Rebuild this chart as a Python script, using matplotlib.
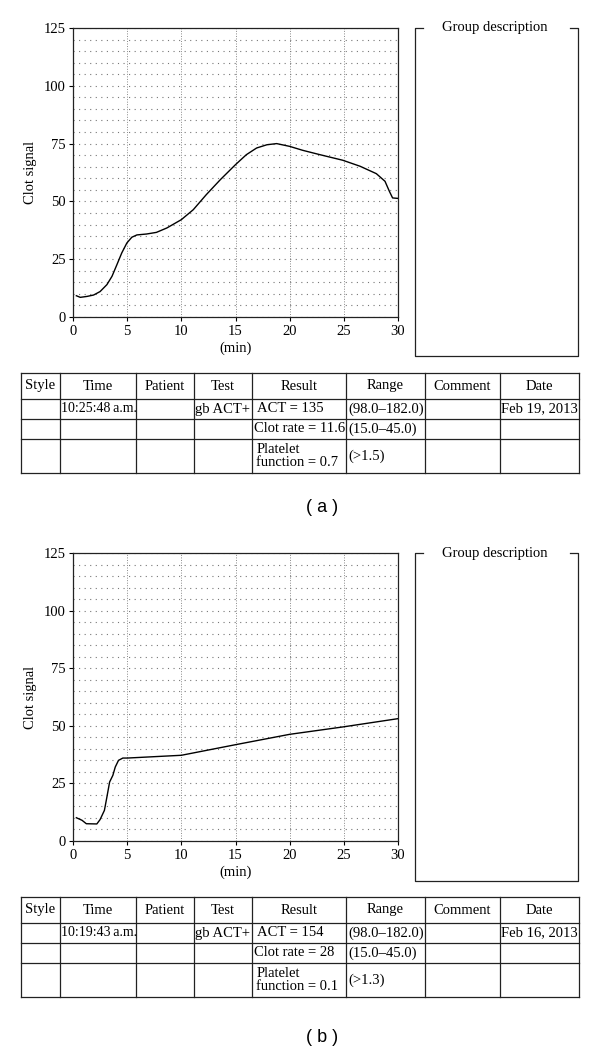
import numpy as np
import matplotlib.pyplot as plt

plt.rcParams['font.family'] = ['Liberation Serif', 'DejaVu Serif']
plt.rcParams['font.size'] = 10.5

# ---------------------------------------------------------
# Data
# ---------------------------------------------------------
time_a = [0.31, 0.67, 1.29, 1.9, 2.5, 3.13, 3.6, 4.05, 4.5, 4.97, 5.43, 5.9,
          6.8, 7.7, 8.66, 10.0, 11.1, 12.3, 13.6, 15.0, 16.0, 16.95, 17.9,
          18.8, 20.0, 21.2, 22.8, 24.9, 26.5, 28.0, 28.8, 29.2, 29.5, 30.0]
signal_a = [9.2, 8.5, 8.9, 9.5, 11.0, 14.0, 17.6, 22.6, 27.7, 32.0, 34.5, 35.5,
            35.9, 36.6, 38.5, 42.1, 46.4, 52.9, 59.4, 65.9, 70.2, 73.1, 74.5,
            75.0, 73.8, 72.1, 70.2, 67.8, 65.2, 62.0, 58.7, 54.4, 51.5, 51.3]

time_b = [0.31, 0.83, 1.23, 2.2, 2.5, 2.9, 3.13, 3.38, 3.68, 3.9, 4.2, 4.6,
          5.0, 10.0, 15.0, 20.0, 24.9, 30.0]
signal_b = [10.1, 9.0, 7.5, 7.4, 9.3, 13.3, 19.1, 25.6, 28.5, 32.1, 35.0, 36.0,
            36.0, 37.2, 41.8, 46.3, 49.5, 53.1]

x_ticks = [0, 5, 10, 15, 20, 25, 30]
y_ticks = [0, 25, 50, 75, 100, 125]

columns = ["Style", "Time", "Patient", "Test", "Result", "Range", "Comment", "Date"]
test_name = "gb ACT+"

time_str_a = "10:25:48\u2009a.m."
results_a = ["ACT = 135", "Clot rate = 11.6", "Platelet\nfunction = 0.7"]
ranges_a = ["(98.0\u2013182.0)", "(15.0\u201345.0)", "(>1.5)"]
date_a = "Feb 19, 2013"

time_str_b = "10:19:43\u2009a.m."
results_b = ["ACT = 154", "Clot rate = 28", "Platelet\nfunction = 0.1"]
ranges_b = ["(98.0\u2013182.0)", "(15.0\u201345.0)", "(>1.3)"]
date_b = "Feb 16, 2013"

W, H = 600, 1048
fig = plt.figure(figsize=(W / 100, H / 100), dpi=100)


def px_rect(x0, y0, x1, y1):
    return [x0 / W, 1 - y1 / H, (x1 - x0) / W, (y1 - y0) / H]


# ---------------------------------------------------------
# Curve panels
# ---------------------------------------------------------
def draw_curve(rect, t, s):
    ax = fig.add_axes(rect)
    ax.plot(t, s, color="black", lw=1.0, zorder=3)
    ax.set_xlim(0, 30)
    ax.set_ylim(0, 125)
    ax.set_xticks(x_ticks)
    ax.set_yticks(y_ticks)
    ax.set_yticks(np.arange(5, 125, 5), minor=True)
    ax.yaxis.grid(True, which="both", ls=(0, (1, 4)), lw=0.8, color="#777777")
    ax.xaxis.grid(True, which="major", ls=(0, (1, 1.6)), lw=0.7, color="#888888")
    ax.tick_params(which="major", direction="out", length=3, width=0.8, pad=2)
    ax.tick_params(which="minor", length=0)
    ax.tick_params(axis="x", pad=3)
    for sp in ax.spines.values():
        sp.set_linewidth(0.9)
        sp.set_color("#222222")
    ax.set_ylabel("Clot signal", labelpad=5)
    ax.set_xlabel("(min)", labelpad=2)
    return ax


draw_curve(px_rect(73, 28, 398, 317), time_a, signal_a)
draw_curve(px_rect(73, 553, 398, 841), time_b, signal_b)

# overlay in pixel coordinates for boxes and tables
ov = fig.add_axes([0, 0, 1, 1])
ov.set_xlim(0, W)
ov.set_ylim(H, 0)
ov.axis("off")


def draw_group_box(x0, y0, x1, y1):
    kw = dict(color="#222222", lw=0.9)
    ov.plot([x0 + 8, x0, x0, x1, x1, x1 - 8], [y0, y0, y1, y1, y0, y0], **kw)
    ov.text((x0 + x1) / 2 - 2, y0, "Group description", ha="center", va="center")


draw_group_box(415, 28, 578, 356)
draw_group_box(415, 553, 578, 881)

col_edges = [21, 60, 136, 194, 252, 346, 425, 500, 579]


def draw_table(y_rows, time_str, results, ranges, date):
    kw = dict(color="#222222", lw=0.9)
    for y in y_rows:
        ov.plot([col_edges[0], col_edges[-1]], [y, y], **kw)
    for x in col_edges:
        ov.plot([x, x], [y_rows[0], y_rows[-1]], **kw)
    hy = (y_rows[0] + y_rows[1]) / 2
    for i, name in enumerate(columns):
        ov.text((col_edges[i] + col_edges[i + 1]) / 2, hy, name, ha="center", va="center")
    r1 = (y_rows[1] + y_rows[2]) / 2
    ov.text(col_edges[1] + 1, r1, time_str, ha="left", va="center", fontsize=10)
    ov.text(col_edges[3] + 1, r1, test_name, ha="left", va="center")
    ov.text(col_edges[7] + 1, r1, date, ha="left", va="center")
    res_x = [col_edges[4] + 5, col_edges[4] + 1.5, col_edges[4] + 4.5]
    for k in range(3):
        yc = (y_rows[k + 1] + y_rows[k + 2]) / 2
        ov.text(res_x[k], yc, results[k], ha="left", va="center", linespacing=0.95)
        ov.text(col_edges[5] + 2, yc, ranges[k], ha="left", va="center")


draw_table([373, 399, 419, 439, 473], time_str_a, results_a, ranges_a, date_a)
draw_table([897, 923, 943, 963, 997], time_str_b, results_b, ranges_b, date_b)

ov.text(322, 508, "( a )", ha="center", va="center", family="Liberation Sans", fontsize=13)
ov.text(322, 1037, "( b )", ha="center", va="center", family="Liberation Sans", fontsize=13)

fig.savefig("out.png", dpi=100)
